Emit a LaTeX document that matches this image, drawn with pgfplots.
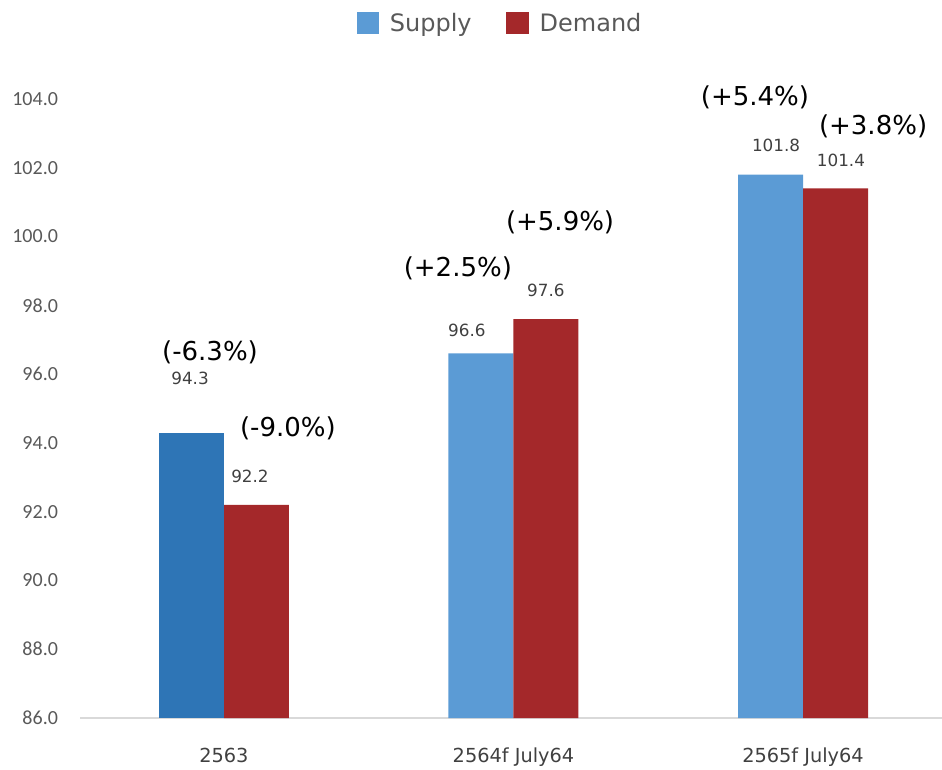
\documentclass[border=0pt]{standalone}
\usepackage{fontspec}
\setmainfont{DejaVu Sans}
\newfontfamily\tickfont{Carlito}
\usepackage{pgfplots}
\pgfplotsset{compat=1.18}
\definecolor{sup}{HTML}{5B9BD5}
\definecolor{supd}{HTML}{2E75B6}
\definecolor{dem}{HTML}{A4282A}
\definecolor{tickc}{HTML}{595959}
\definecolor{lab}{HTML}{404040}
\pgfplotsset{sqleg/.style={legend image code/.code={\fill[##1] (0pt,-8.5pt) rectangle (17pt,8.5pt);}}}
\begin{document}
\begin{tikzpicture}
\begin{axis}[
 scale only axis, width=646.5pt, height=464.25pt,
 xmin=-0.497, xmax=2.48, ymin=86, ymax=104,
 ytick={86,88,...,104},
 xtick={0,1,2}, xticklabels={2563, 2564f July64, 2565f July64},
 axis x line*=bottom, axis y line*=left,
 y axis line style={draw=none},
 x axis line style={draw=black!15, line width=1.2pt, -},
 major tick length=0pt,
 ytick style={draw=none}, xtick style={draw=none},
 yticklabel style={font=\tickfont\fontsize{15}{18}\selectfont, text=tickc, anchor=east, xshift=-13pt, /pgf/number format/.cd, fixed, fixed zerofill, precision=1, assume math mode=true},
 xticklabel style={font=\fontsize{14.5}{17}\selectfont, text=lab, yshift=-19pt},
 ybar, bar shift=0pt, bar width=0.2245,
 clip mode=individual,
 legend style={at={(0.5,1)}, anchor=center, yshift=57pt, xshift=-8pt, draw=none, fill=none, legend columns=2, font=\fontsize{18}{21}\selectfont, text=tickc, /tikz/every odd column/.append style={column sep=6pt}, /tikz/every even column/.append style={column sep=24pt}},
]
\addplot[fill=sup, draw=none, sqleg] coordinates {(0.8878,96.6) (1.8878,101.8)};
\addlegendentry{Supply}
\addplot[fill=dem, draw=none, sqleg] coordinates {(0.1122,92.2) (1.1122,97.6) (2.1122,101.4)};
\addlegendentry{Demand}
\addplot[fill=supd, draw=none, forget plot] coordinates {(-0.1122,94.3)};
% value labels
\begin{scope}[every node/.style={font=\fontsize{12.6}{15}\selectfont, text=lab}]
\node at (axis cs:-0.117,95.88) {94.3};
\node at (axis cs:0.090,93.03) {92.2};
\node at (axis cs:0.839,97.28) {96.6};
\node at (axis cs:1.112,98.44) {97.6};
\node at (axis cs:1.907,102.66) {101.8};
\node at (axis cs:2.131,102.22) {101.4};
\end{scope}
\begin{scope}[every node/.style={font=\fontsize{19.5}{23}\selectfont, text=black}]
\node at (axis cs:-0.048,96.64) {(-6.3\%)};
\node at (axis cs:0.221,94.43) {(-9.0\%)};
\node at (axis cs:0.808,99.08) {(+2.5\%)};
\node at (axis cs:1.161,100.42) {(+5.9\%)};
\node at (axis cs:1.834,104.05) {(+5.4\%)};
\node at (axis cs:2.242,103.21) {(+3.8\%)};
\end{scope}
\end{axis}
\pgfresetboundingbox
\path[use as bounding box] ([shift={(-60pt,-38.25pt)}]current axis.south west) rectangle ([shift={(646.5pt,538.5pt)}]current axis.south west);
\end{tikzpicture}
\end{document}
